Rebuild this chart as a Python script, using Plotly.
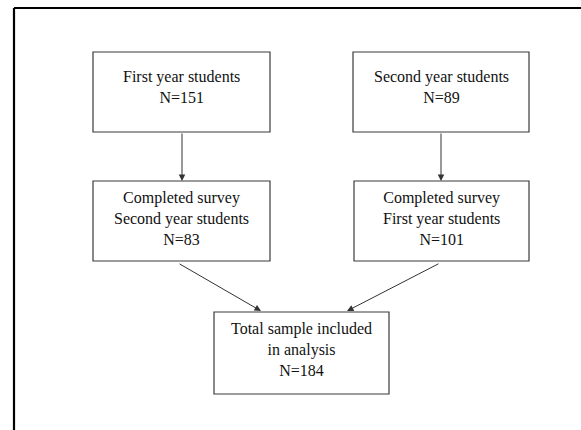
import plotly.graph_objects as go

# Data: node labels and counts
node_titles = ["First year students", "Second year students",
               "Completed survey<br>Second year students", "Completed survey<br>First year students",
               "Total sample included<br>in analysis"]
node_counts = [151, 89, 83, 101, 184]

# Layout geometry (pixel space, y down)
boxes = [(93, 52, 270, 132), (353, 52, 529, 132),
         (93, 181, 270, 261), (354, 181, 529, 261),
         (214, 312, 389, 394)]
text_y = [87, 87, 218, 218, 349]
edges = [((182, 132), (182, 181)), ((441, 132), (441, 181)),
         ((178, 263), (261, 311)), ((440, 263), (347, 311))]

fig = go.Figure()
W, H = 581, 430
shapes = []
for (x0, y0, x1, y1) in boxes:
    shapes.append(dict(type="rect", x0=x0, y0=y0, x1=x1, y1=y1, xref="x", yref="y",
                       line=dict(color="#3a3a3a", width=1.2), fillcolor="white"))
# outer frame
shapes.append(dict(type="line", x0=14, y0=8, x1=W, y1=8, xref="x", yref="y",
                   line=dict(color="black", width=2.2)))
shapes.append(dict(type="line", x0=14, y0=8, x1=14, y1=H, xref="x", yref="y",
                   line=dict(color="black", width=2.2)))

annotations = []
for (x0, y0, x1, y1), t, n, ty in zip(boxes, node_titles, node_counts, text_y):
    annotations.append(dict(x=(x0 + x1) / 2, y=ty, xref="x", yref="y",
                            text=f"{t}<br>N={n}", showarrow=False,
                            font=dict(family="Liberation Serif", size=16, color="#111"),
                            xanchor="center", yanchor="middle", align="center"))
for (sx, sy), (ex, ey) in edges:
    annotations.append(dict(x=ex, y=ey, ax=sx, ay=sy, xref="x", yref="y",
                            axref="x", ayref="y", text="", showarrow=True,
                            arrowhead=2, arrowsize=1.3, arrowwidth=1,
                            arrowcolor="#333"))

fig.update_layout(width=W, height=H, margin=dict(l=0, r=0, t=0, b=0),
                  paper_bgcolor="white", plot_bgcolor="white",
                  xaxis=dict(range=[0, W], visible=False, fixedrange=True),
                  yaxis=dict(range=[H, 0], visible=False, fixedrange=True),
                  shapes=shapes, annotations=annotations, showlegend=False)
fig.write_html("out.html", config={"displayModeBar": False},
               post_script="document.body.style.margin='0px';document.body.style.overflow='hidden';")
